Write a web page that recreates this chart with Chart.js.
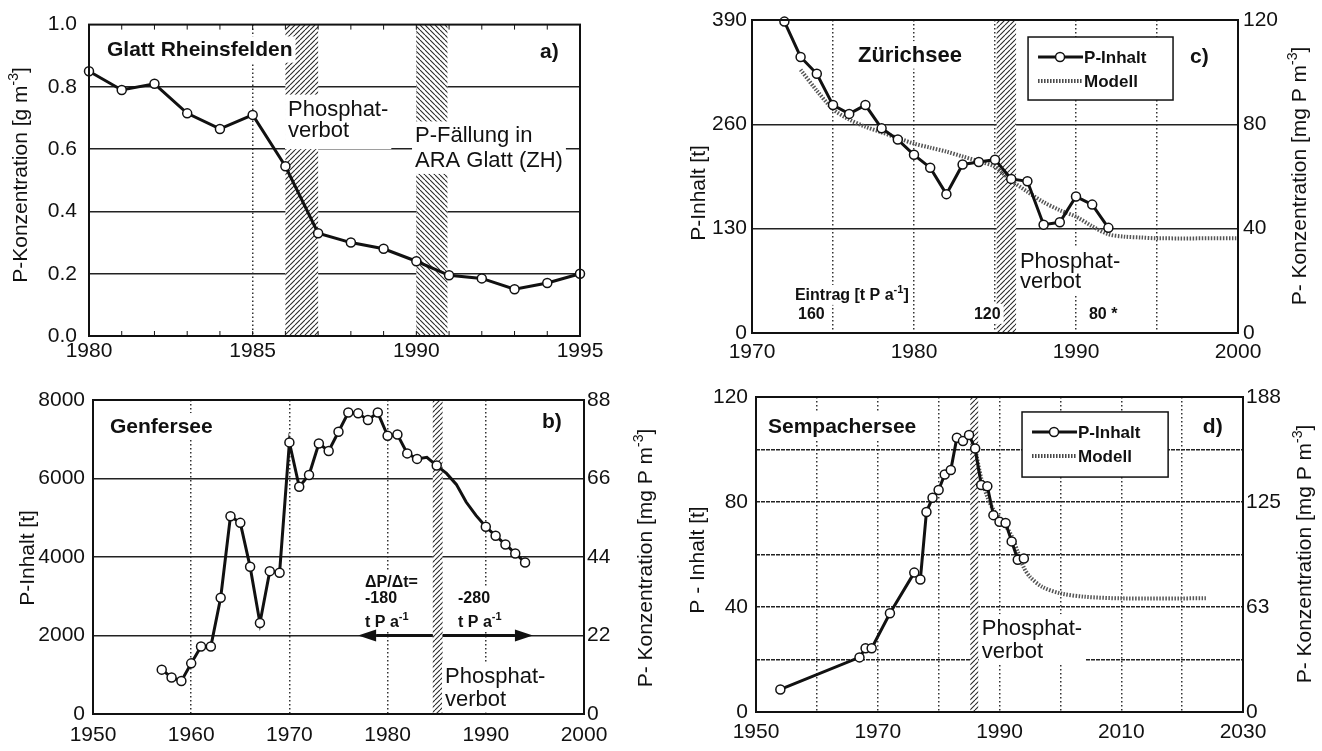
<!DOCTYPE html>
<html>
<head>
<meta charset="utf-8">
<script src="https://cdn.jsdelivr.net/npm/chart.js@4.4.1/dist/chart.umd.min.js"></script>
<style>
  body { margin: 0; background: #fff; }
  #wrap { position: relative; width: 1322px; height: 751px; overflow: hidden; }
  canvas { position: absolute; }
</style>
</head>
<body>
<div id="wrap">
  <canvas id="cA" width="660" height="375" style="left:0;top:0"></canvas>
  <canvas id="cB" width="660" height="376" style="left:0;top:375px"></canvas>
  <canvas id="cC" width="662" height="375" style="left:660px;top:0"></canvas>
  <canvas id="cD" width="662" height="376" style="left:660px;top:375px"></canvas>
</div>
<script>
// a) Glatt Rheinsfelden, P concentration [g m-3]
const yearsGlatt = [1980, 1981, 1982, 1983, 1984, 1985, 1986, 1987, 1988, 1989, 1990, 1991, 1992, 1993, 1994, 1995];
const concGlatt = [0.85, 0.79, 0.81, 0.715, 0.665, 0.71, 0.545, 0.33, 0.30, 0.28, 0.24, 0.195, 0.185, 0.15, 0.17, 0.20];

// b) Genfersee, P content [t]
const yearsGenf = [1957, 1958, 1959, 1960, 1961, 1962, 1963, 1964, 1965, 1966, 1967, 1968, 1969, 1970,
  1971, 1972, 1973, 1974, 1975, 1976, 1977, 1978, 1979, 1980, 1981, 1982, 1983, 1984, 1985, 1986,
  1987, 1988, 1989, 1990, 1991, 1992, 1993, 1994];
const inhaltGenf = [1130, 930, 840, 1290, 1720, 1720, 2960, 5040, 4870, 3750, 2320, 3640, 3600, 6920,
  5790, 6090, 6890, 6700, 7190, 7680, 7660, 7490, 7680, 7090, 7120, 6640, 6500, 6540, 6330, 6130,
  5850, 5400, 5060, 4770, 4540, 4320, 4090, 3860];
const measuredGenf = [1, 1, 1, 1, 1, 1, 1, 1, 1, 1, 1, 1, 1, 1, 1, 1, 1, 1, 1, 1, 1, 1, 1, 1, 1, 1, 1, 0, 1, 0,
  0, 0, 0, 1, 1, 1, 1, 1];

// c) Zürichsee, P content [t] and model
const yearsZh = [1972, 1973, 1974, 1975, 1976, 1977, 1978, 1979, 1980, 1981, 1982, 1983, 1984, 1985,
  1986, 1987, 1988, 1989, 1990, 1991, 1992];
const inhaltZh = [388, 344, 323, 284, 273, 284, 255, 241, 222, 206, 173, 210, 213, 216, 192, 189, 135, 138, 170, 160, 131];
const yearsModelZh = [1973, 1974, 1975, 1976, 1977, 1978, 1979, 1980, 1981, 1982, 1983, 1984, 1985, 1986,
  1987, 1988, 1989, 1990, 1991, 1992, 1993, 1994, 1995, 2000];
const modelZh = [328, 302, 279, 266, 257, 250, 243, 236, 231, 226, 220, 214, 207, 190, 176, 163, 153, 145, 133, 123, 120, 119, 118, 118];

// d) Sempachersee, P content [t] and model
const yearsSp = [1954, 1967, 1968, 1969, 1972, 1976, 1977, 1978, 1979, 1980, 1981, 1982, 1983, 1984,
  1985, 1986, 1987, 1988, 1989, 1990, 1991, 1992, 1993, 1994];
const inhaltSp = [8.6, 20.8, 24.3, 24.3, 37.6, 53.1, 50.5, 76.2, 81.6, 84.6, 90.5, 92.2, 104.5, 103.2,
  105.5, 100.4, 86.5, 86, 75, 72.5, 72, 65, 58, 58.5];
const yearsModelSp = [1986, 1987, 1988, 1989, 1990, 1991, 1992, 1993, 1994, 1995, 1997, 2000, 2004, 2010, 2024];
const modelSp = [100.5, 89, 82, 77, 74, 71, 67, 61, 55, 51.5, 47.7, 45.2, 43.9, 43.3, 43.3];

const FONT = "'Liberation Sans', Arial, Helvetica, sans-serif";
Chart.defaults.font.family = FONT;
Chart.defaults.font.size = 21;
Chart.defaults.color = '#111';

const pts = (xs, ys) => xs.map((x, i) => ({ x, y: ys[i] }));

function richWidth(ctx, str, size, weight) {
  let w = 0;
  str.split(/(\^\{[^}]*\})/).forEach(p => {
    if (!p) return;
    const sup = p.startsWith('^{');
    const t = sup ? p.slice(2, -1) : p;
    ctx.font = `${weight} ${sup ? Math.round(size * 0.68) : size}px ${FONT}`;
    w += ctx.measureText(t).width;
  });
  return w;
}

function drawRich(ctx, str, x, y, size, weight) {
  let cx = x;
  str.split(/(\^\{[^}]*\})/).forEach(p => {
    if (!p) return;
    const sup = p.startsWith('^{');
    const t = sup ? p.slice(2, -1) : p;
    ctx.font = `${weight} ${sup ? Math.round(size * 0.68) : size}px ${FONT}`;
    ctx.fillText(t, cx, sup ? y - size * 0.42 : y);
    cx += ctx.measureText(t).width;
  });
}

function hatchPattern(ctx, dir) {
  const c = document.createElement('canvas');
  c.width = 5; c.height = 5;
  const g = c.getContext('2d');
  g.strokeStyle = '#2a2a2a';
  g.lineWidth = 1.1;
  g.beginPath();
  for (let k = -5; k <= 10; k += 5) {
    if (dir > 0) { g.moveTo(k, 5); g.lineTo(k + 5, 0); }
    else { g.moveTo(k, 0); g.lineTo(k + 5, 5); }
  }
  g.stroke();
  return ctx.createPattern(c, 'repeat');
}

function makeDecor(cfg) {
  return {
    id: 'decor',
    beforeDatasetsDraw(chart) {
      const { ctx, chartArea: a, scales } = chart;
      const xs = scales.x, ys = scales.y;
      ctx.save();
      ctx.beginPath();
      ctx.rect(a.left, a.top, a.width, a.height);
      ctx.clip();
      (cfg.bands || []).forEach(b => {
        const x0 = xs.getPixelForValue(b.from), x1 = xs.getPixelForValue(b.to);
        ctx.fillStyle = '#fff';
        ctx.fillRect(x0, a.top, x1 - x0, a.height);
        ctx.fillStyle = hatchPattern(ctx, b.dir || 1);
        ctx.fillRect(x0, a.top, x1 - x0, a.height);
      });
      ctx.restore();

      ctx.save();
      (cfg.notes || []).forEach(n => {
        const weight = n.bold ? 'bold' : 'normal';
        const x = xs.getPixelForValue(n.x), y = ys.getPixelForValue(n.y);
        const offs = n.lines.map((l, i) => Array.isArray(n.lh) ? n.lh[i] : i * (n.lh || n.size));
        const w = Math.max(...n.lines.map(l => richWidth(ctx, l, n.size, weight)));
        if (n.bg !== false) {
          ctx.fillStyle = '#fff';
          ctx.fillRect(x - 3, y - n.size * 0.95, w + 6, offs[offs.length - 1] + n.size * 1.25 + (n.padB || 0));
        }
        ctx.fillStyle = '#111';
        ctx.textAlign = 'left';
        ctx.textBaseline = 'alphabetic';
        n.lines.forEach((l, i) => drawRich(ctx, l, x, y + offs[i], n.size, weight));
      });

      (cfg.arrows || []).forEach(ar => {
        const y = ys.getPixelForValue(ar.y);
        const x0 = xs.getPixelForValue(ar.from), x1 = xs.getPixelForValue(ar.to);
        const d = Math.sign(x1 - x0), hl = 18, hw = 6;
        ctx.strokeStyle = '#111';
        ctx.lineWidth = 3;
        ctx.beginPath();
        ctx.moveTo(x0, y);
        ctx.lineTo(x1 - d * hl, y);
        ctx.stroke();
        ctx.fillStyle = '#111';
        ctx.beginPath();
        ctx.moveTo(x1, y);
        ctx.lineTo(x1 - d * hl, y - hw);
        ctx.lineTo(x1 - d * hl, y + hw);
        ctx.closePath();
        ctx.fill();
      });
      ctx.restore();
    },
    afterDatasetsDraw(chart) {
      const { ctx, chartArea: a, scales } = chart;
      const xs = scales.x, ys = scales.y;
      ctx.save();
      if (cfg.minorTicks) {
        ctx.strokeStyle = '#111';
        ctx.lineWidth = 1;
        ctx.beginPath();
        for (let v = xs.min + 1; v < xs.max; v++) {
          const px = xs.getPixelForValue(v);
          ctx.moveTo(px, a.bottom); ctx.lineTo(px, a.bottom - 5);
          ctx.moveTo(px, a.top); ctx.lineTo(px, a.top + 5);
        }
        ctx.stroke();
      }
      ctx.strokeStyle = '#111';
      ctx.lineWidth = 2;
      ctx.strokeRect(a.left, a.top, a.width, a.height);

      const L = cfg.legend;
      if (L) {
        const lx0 = xs.getPixelForValue(L.x0), lx1 = xs.getPixelForValue(L.x1);
        const ly0 = ys.getPixelForValue(L.y0), ly1 = ys.getPixelForValue(L.y1);
        ctx.fillStyle = '#fff';
        ctx.fillRect(lx0, ly0, lx1 - lx0, ly1 - ly0);
        ctx.lineWidth = 1.5;
        ctx.strokeRect(lx0, ly0, lx1 - lx0, ly1 - ly0);
        L.items.forEach((it, i) => {
          const base = ly0 + 26 + i * 24;
          const sy = base - 6;
          ctx.save();
          if (it.kind === 'model') {
            ctx.strokeStyle = '#444';
            ctx.lineWidth = 4;
            ctx.setLineDash([1.5, 1.5]);
          } else {
            ctx.strokeStyle = '#111';
            ctx.lineWidth = 3;
          }
          ctx.beginPath();
          ctx.moveTo(lx0 + 10, sy);
          ctx.lineTo(lx0 + 55, sy);
          ctx.stroke();
          ctx.restore();
          if (it.kind !== 'model') {
            ctx.beginPath();
            ctx.arc(lx0 + 32, sy, 4.5, 0, Math.PI * 2);
            ctx.fillStyle = '#fff';
            ctx.fill();
            ctx.lineWidth = 1.5;
            ctx.strokeStyle = '#111';
            ctx.stroke();
          }
          ctx.fillStyle = '#111';
          ctx.font = `bold 17px ${FONT}`;
          ctx.textAlign = 'left';
          ctx.textBaseline = 'alphabetic';
          ctx.fillText(it.label, lx0 + 56, base);
        });
      }
      ctx.restore();
    },
    afterDraw(chart) {
      const { ctx } = chart;
      (cfg.titles || []).forEach(t => {
        ctx.save();
        ctx.translate(t.x, t.cy);
        ctx.rotate(-Math.PI / 2);
        ctx.fillStyle = '#111';
        ctx.textAlign = 'left';
        ctx.textBaseline = 'alphabetic';
        const w = richWidth(ctx, t.text, 21, 'normal');
        drawRich(ctx, t.text, -w / 2, 7.5, 21, 'normal');
        ctx.restore();
      });
    }
  };
}

const lineStyle = {
  borderColor: '#111',
  borderWidth: 3,
  pointBackgroundColor: '#fff',
  pointBorderColor: '#111',
  pointBorderWidth: 1.5,
  pointRadius: 4.5,
  tension: 0,
  clip: false
};
const modelStyle = {
  borderColor: '#555',
  borderWidth: 4,
  borderDash: [1.5, 1.5],
  pointRadius: 0,
  tension: 0.3,
  clip: false
};

// helpers for the axes
const innerOnly = (lo, hi, test, col) => ctx =>
  (ctx.tick && ctx.tick.value > lo && ctx.tick.value < hi && test(ctx.tick.value)) ? col : 'rgba(0,0,0,0)';

function xAxis(min, max, step, labelEvery, gridEvery, height, pad) {
  return {
    type: 'linear', min, max,
    afterFit: s => { s.height = height; },
    ticks: { stepSize: step, autoSkip: false, maxRotation: 0, padding: pad,
      callback: v => ((v - min) % labelEvery === 0 ? v : '') },
    grid: { drawTicks: false, lineWidth: 1.5,
      color: innerOnly(min, max, v => (v - min) % gridEvery === 0, '#333') },
    border: { display: false, dash: [1.5, 2.5] }
  };
}

function yAxis(min, max, step, width, pad, opts = {}) {
  return {
    type: 'linear', min, max,
    position: opts.right ? 'right' : 'left',
    afterFit: s => { s.width = width; },
    afterBuildTicks: opts.ticks ? s => { s.ticks = opts.ticks.map(value => ({ value })); } : undefined,
    ticks: { stepSize: step, padding: pad, autoSkip: false,
      callback: opts.fmt || (v => v) },
    grid: { display: !opts.right, drawTicks: false, lineWidth: 1.5,
      color: innerOnly(min, max, () => true, '#222') },
    border: { display: false, dash: opts.dash || [] }
  };
}

const baseOpts = {
  responsive: false,
  devicePixelRatio: 1,
  animation: false,
  plugins: { legend: { display: false }, tooltip: { enabled: false } }
};

// a) Glatt Rheinsfelden
new Chart(document.getElementById('cA'), {
  type: 'line',
  data: { datasets: [{ data: pts(yearsGlatt, concGlatt), ...lineStyle }] },
  options: {
    ...baseOpts,
    layout: { padding: { left: 0, right: 80, top: 21, bottom: 0 } },
    scales: {
      x: xAxis(1980, 1995, 1, 5, 5, 39, 3),
      y: yAxis(0, 1, 0.2, 89, 12, { fmt: v => v.toFixed(1) })
    }
  },
  plugins: [makeDecor({
    minorTicks: true,
    bands: [{ from: 1986, to: 1987, dir: 1 }, { from: 1990, to: 1990.95, dir: -1 }],
    notes: [
      { x: 1980.55, y: 0.898, lines: ['Glatt Rheinsfelden'], size: 21, bold: true },
      { x: 1993.78, y: 0.892, lines: ['a)'], size: 21, bold: true },
      { x: 1986.08, y: 0.708, lines: ['Phosphat-', 'verbot'], size: 22, lh: 21, padB: 6 },
      { x: 1989.96, y: 0.622, lines: ['P-Fällung in', 'ARA Glatt (ZH)'], size: 22, lh: 25 }
    ],
    titles: [{ text: 'P-Konzentration [g m^{-3}]', x: 19, cy: 175 }]
  })]
});

// b) Genfersee
new Chart(document.getElementById('cB'), {
  type: 'line',
  data: { datasets: [{ data: pts(yearsGenf, inhaltGenf), ...lineStyle,
    pointRadius: measuredGenf.map(m => (m ? 4.5 : 0)) }] },
  options: {
    ...baseOpts,
    layout: { padding: { left: 0, right: 0, top: 25, bottom: 0 } },
    scales: {
      x: xAxis(1950, 2000, 10, 10, 10, 37, 9),
      y: yAxis(0, 8000, 2000, 93, 8),
      y2: yAxis(0, 88, 22, 76, 3, { right: true })
    }
  },
  plugins: [makeDecor({
    bands: [{ from: 1984.6, to: 1985.6, dir: 1 }],
    notes: [
      { x: 1951.73, y: 7159, lines: ['Genfersee'], size: 21, bold: true },
      { x: 1995.72, y: 7287, lines: ['b)'], size: 21, bold: true },
      { x: 1977.7, y: 3236, lines: ['ΔP/Δt=', '-180', 't P a^{-1}'], size: 16, bold: true, lh: [0, 16, 40] },
      { x: 1987.17, y: 2828, lines: ['-280', 't P a^{-1}'], size: 16, bold: true, lh: [0, 24] },
      { x: 1985.85, y: 790, lines: ['Phosphat-', 'verbot'], size: 22, lh: 23 }
    ],
    arrows: [{ y: 2000, from: 1984.6, to: 1977.0 }, { y: 2000, from: 1985.6, to: 1994.8 }],
    titles: [
      { text: 'P-Inhalt [t]', x: 26, cy: 183 },
      { text: 'P- Konzentration [mg P m^{-3}]', x: 644, cy: 183 }
    ]
  })]
});

// c) Zürichsee
new Chart(document.getElementById('cC'), {
  type: 'line',
  data: { datasets: [
    { data: pts(yearsZh, inhaltZh), ...lineStyle },
    { data: pts(yearsModelZh, modelZh), ...modelStyle }
  ] },
  options: {
    ...baseOpts,
    layout: { padding: { left: 0, right: 0, top: 20, bottom: 0 } },
    scales: {
      x: xAxis(1970, 2000, 5, 10, 5, 42, 7),
      y: yAxis(0, 390, 130, 92, 5),
      y2: yAxis(0, 120, 40, 84, 5, { right: true })
    }
  },
  plugins: [makeDecor({
    bands: [{ from: 1985.1, to: 1986.3, dir: 1 }],
    notes: [
      { x: 1976.54, y: 337.6, lines: ['Zürichsee'], size: 22, bold: true },
      { x: 1997.04, y: 336, lines: ['c)'], size: 21, bold: true },
      { x: 1986.54, y: 81, lines: ['Phosphat-', 'verbot'], size: 22, lh: 20 },
      { x: 1972.65, y: 41, lines: ['Eintrag [t P a^{-1}]'], size: 16, bold: true },
      { x: 1972.84, y: 17.4, lines: ['160'], size: 16, bold: true },
      { x: 1983.7, y: 17.4, lines: ['120'], size: 16, bold: true },
      { x: 1990.8, y: 17.4, lines: ['80 *'], size: 16, bold: true }
    ],
    legend: { x0: 1987.04, x1: 1995.99, y0: 368.8, y1: 290.3,
      items: [{ label: 'P-Inhalt', kind: 'data' }, { label: 'Modell', kind: 'model' }] },
    titles: [
      { text: 'P-Inhalt [t]', x: 37, cy: 193 },
      { text: 'P- Konzentration [mg P m^{-3}]', x: 638, cy: 176 }
    ]
  })]
});

// d) Sempachersee
new Chart(document.getElementById('cD'), {
  type: 'line',
  data: { datasets: [
    { data: pts(yearsSp, inhaltSp), ...lineStyle },
    { data: pts(yearsModelSp, modelSp), ...modelStyle }
  ] },
  options: {
    ...baseOpts,
    layout: { padding: { left: 0, right: 0, top: 22, bottom: 0 } },
    scales: {
      x: xAxis(1950, 2030, 10, 20, 10, 39, 8),
      y: yAxis(0, 120, 20, 96, 8, { fmt: v => (v % 40 === 0 ? v : ''), dash: [4, 1] }),
      y2: yAxis(0, 188, null, 79, 3, { right: true, ticks: [0, 188 / 3, 376 / 3, 188], fmt: v => Math.round(v) })
    }
  },
  plugins: [makeDecor({
    bands: [{ from: 1985.2, to: 1986.5, dir: 1 }],
    notes: [
      { x: 1951.97, y: 106.3, lines: ['Sempachersee'], size: 21, bold: true },
      { x: 2023.4, y: 106.3, lines: ['d)'], size: 21, bold: true },
      { x: 1987.1, y: 29.3, lines: ['Phosphat-', 'verbot'], size: 22, lh: 23 }
    ],
    legend: { x0: 1993.7, x1: 2017.7, y0: 114.3, y1: 89.5,
      items: [{ label: 'P-Inhalt', kind: 'data' }, { label: 'Modell', kind: 'model' }] },
    titles: [
      { text: 'P - Inhalt [t]', x: 36, cy: 185 },
      { text: 'P- Konzentration [mg P m^{-3}]', x: 643, cy: 179 }
    ]
  })]
});
</script>
</body>
</html>
